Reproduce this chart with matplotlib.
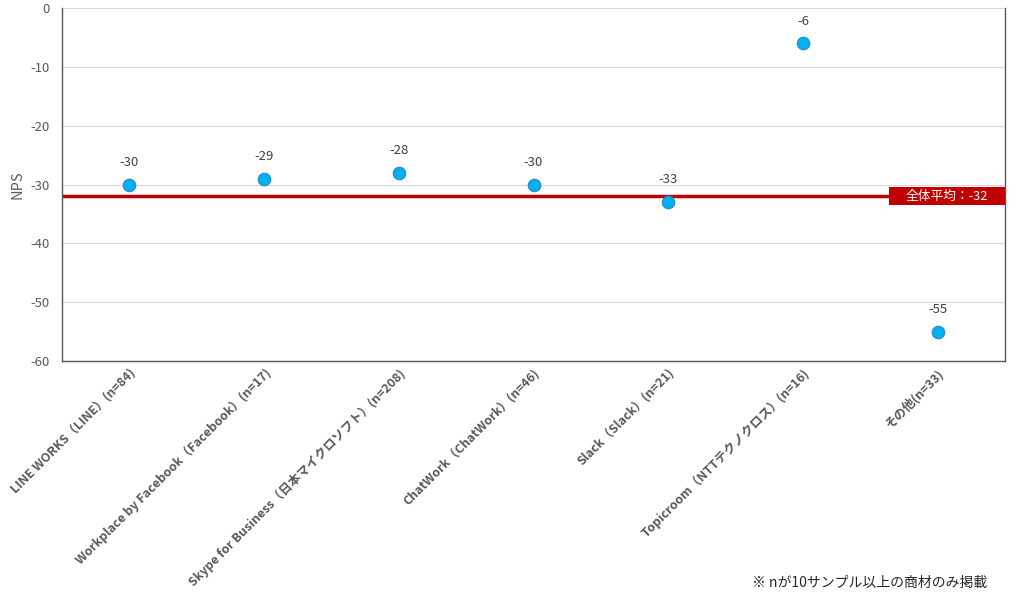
import matplotlib
matplotlib.use("Agg")
import matplotlib.pyplot as plt
from matplotlib.patches import Rectangle

plt.rcParams['font.family'] = ['Noto Sans CJK JP', 'DejaVu Sans']

# データ
categories = [
    "LINE WORKS（LINE）(n=84)",
    "Workplace by Facebook（Facebook）(n=17)",
    "Skype for Business（日本マイクロソフト）(n=208)",
    "ChatWork（ChatWork）(n=46)",
    "Slack（Slack）(n=21)",
    "Topicroom（NTTテクノクロス）(n=16)",
    "その他(n=33)",
]
nps = [-30, -29, -28, -30, -33, -6, -55]
average = -32
yticks = [0, -10, -20, -30, -40, -50, -60]

gray = "#595959"

fig = plt.figure(figsize=(10.13, 5.93), dpi=100)
ax = fig.add_axes([62 / 1013, 1 - 361 / 593, 943 / 1013, 353 / 593])

x = list(range(len(categories)))
ax.set_xlim(-0.5, len(categories) - 0.5)
ax.set_ylim(-60, 0)

ax.set_yticks(yticks)
ax.set_yticklabels([str(t) for t in yticks], color=gray, fontsize=9.5)
ax.yaxis.grid(True, color="#d9d9d9", lw=0.8)
ax.set_axisbelow(True)
ax.tick_params(axis="y", length=0, pad=9)
ax.tick_params(axis="x", length=0, pad=4)

for side in ["left", "bottom", "right"]:
    ax.spines[side].set_color("#595959")
    ax.spines[side].set_linewidth(1)
ax.spines["top"].set_visible(False)

ax.set_ylabel("NPS", color=gray, fontsize=10.5, labelpad=4)

# 全体平均
ax.axhline(average, color="#C00000", lw=2.5, zorder=2)
ax.add_patch(Rectangle((0.877, average - 1.5), 0.123, 3.0,
                       transform=ax.get_yaxis_transform(), fc="#C00000", ec="none",
                       zorder=5, clip_on=False))
ax.text(0.9385, average, "全体平均：" + str(average), transform=ax.get_yaxis_transform(),
        ha="center", va="center", color="white", fontsize=9.2, zorder=6)

# 点
ax.plot(x, nps, "o", ms=9, mfc="#00B0F0", mec="#1F8BC8", mew=0.8, zorder=4)
for xi, v in zip(x, nps):
    ax.annotate(str(v), (xi, v), xytext=(0, 16), textcoords="offset points",
                ha="center", va="center", color="#404040", fontsize=9.5)

ax.set_xticks(x)
ax.set_xticklabels(categories, rotation=45, ha="right", rotation_mode="anchor",
                   color=gray, fontsize=9, fontweight="bold")

fig.text(987 / 1013, 1 - 583 / 593, "※ nが10サンプル以上の商材のみ掲載",
         ha="right", va="center", fontsize=10, color="#262626")

fig.savefig("out.png", dpi=100, facecolor="white")
